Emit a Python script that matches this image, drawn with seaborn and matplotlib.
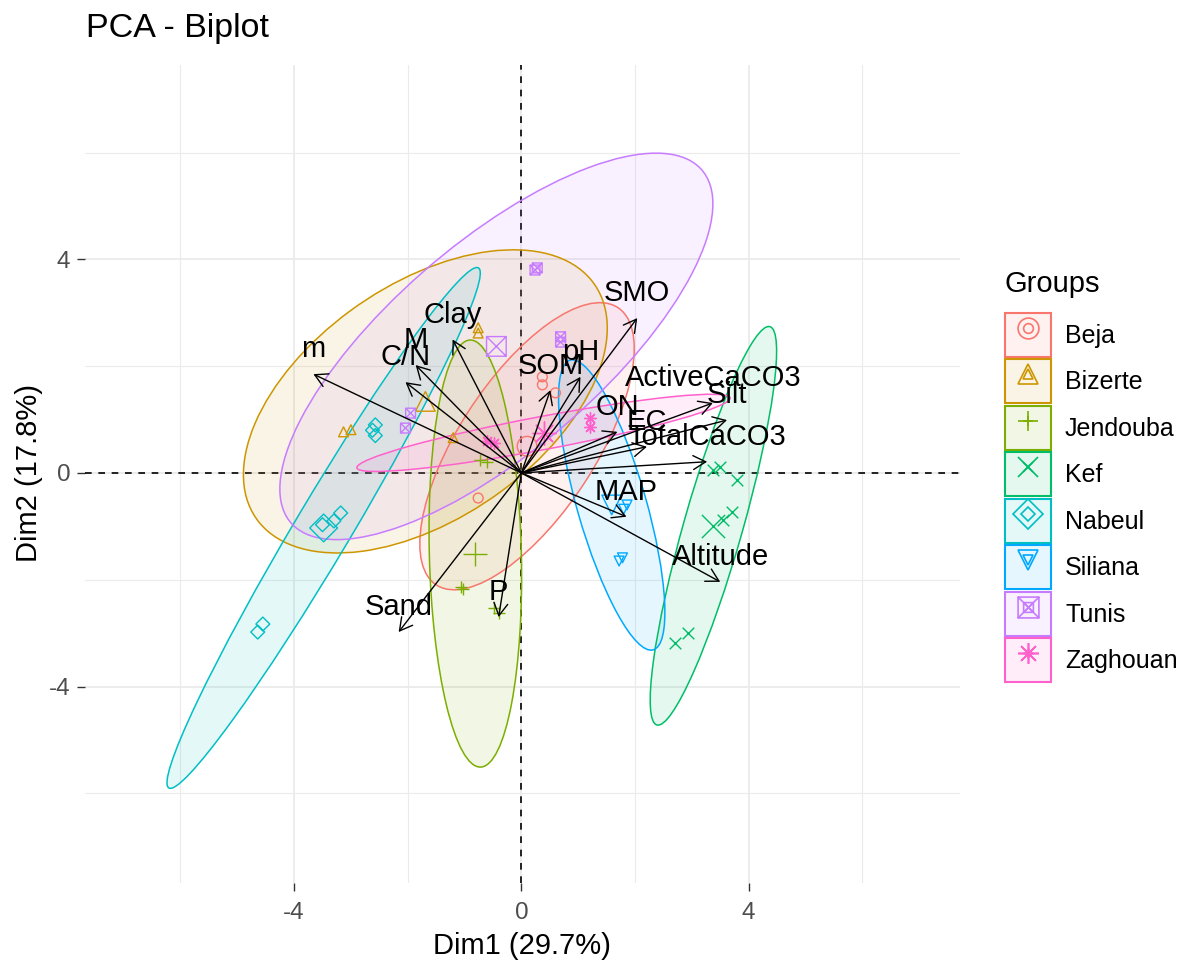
import numpy as np
import pandas as pd
import seaborn as sns
import matplotlib
matplotlib.use("Agg")
import matplotlib.pyplot as plt
from matplotlib.patches import Ellipse, Patch
from matplotlib.lines import Line2D
from matplotlib.path import Path

# ---------------- data ----------------
groups = ['Beja', 'Bizerte', 'Jendouba', 'Kef', 'Nabeul', 'Siliana', 'Tunis', 'Zaghouan']
group_colors = ['#F8766D', '#CD9600', '#7CAE00', '#00BE67', '#00BFC4', '#00A9FF', '#C77CFF', '#FF61CC']

# individuals (Dim1, Dim2)
ind_group = (['Beja'] * 4 + ['Bizerte'] * 5 + ['Jendouba'] * 6 + ['Kef'] * 7 +
             ['Nabeul'] * 8 + ['Siliana'] * 4 + ['Tunis'] * 6 + ['Zaghouan'] * 4)
ind_x = [0.37, 0.37, 0.60, -0.76,
         -3.00, -3.13, -1.20, -0.76, -0.76,
         -1.07, -1.03, -0.49, -0.39, -0.72, -0.60,
         3.37, 3.50, 3.80, 3.71, 3.55, 2.71, 2.93,
         -2.57, -2.57, -2.62, -3.50, -3.18, -3.30, -4.64, -4.55,
         1.86, 1.80, 1.78, 1.72,
         0.28, 0.24, 0.69, 0.69, -1.95, -2.04,
         1.21, 1.21, -0.49, -0.60]
ind_y = [1.65, 1.80, 1.50, -0.47,
         0.81, 0.77, 0.66, 2.62, 2.72,
         -2.13, -2.18, -2.53, -2.62, 0.25, 0.20,
         0.05, 0.12, -0.13, -0.73, -0.88, -3.18, -3.00,
         0.90, 0.70, 0.80, -0.97, -0.75, -0.90, -2.98, -2.83,
         -0.60, -0.68, -1.59, -1.65,
         3.84, 3.80, 2.45, 2.55, 1.12, 0.84,
         0.86, 1.03, 0.56, 0.60]

# group means and concentration ellipses (semi-axes, angle in degrees)
mean_x = [0.10, -1.69, -0.81, 3.38, -3.48, 1.59, -0.44, 0.39]
mean_y = [0.50, 1.34, -1.51, -0.99, -1.03, -0.60, 2.37, 0.75]
ell_a = [3.05, 3.70, 4.00, 3.86, 5.58, 2.81, 4.90, 3.35]
ell_b = [1.22, 2.15, 0.81, 0.52, 0.50, 0.61, 1.90, 0.31]
ell_angle = [59, 38, 91.3, 75.1, 60.8, 105, 43, 11.3]

# variables (arrow tips)
var_names = ['m', 'C/N', 'M', 'Clay', 'SOM', 'pH', 'SMO', 'ActiveCaCO3', 'Silt',
             'ON', 'EC', 'TotalCaCO3', 'MAP', 'Altitude', 'Sand', 'P']
var_x = [-3.66, -2.04, -1.86, -1.21, 0.51, 1.04, 2.04, 3.37, 3.62,
         1.69, 2.21, 3.27, 1.85, 3.50, -2.16, -0.40]
var_y = [1.85, 1.70, 2.02, 2.50, 1.55, 1.80, 2.90, 1.31, 0.99,
         0.77, 0.49, 0.21, -0.82, -2.04, -2.98, -2.70]

x_ticks = [-4, 0, 4]
y_ticks = [-4, 0, 4]

# ---------------- style ----------------
sns.set_theme(style="white")
plt.rcParams['font.family'] = ['Liberation Sans', 'DejaVu Sans']
plt.rcParams['text.color'] = 'black'

sq_x = Path([(-1, -1), (1, -1), (1, 1), (-1, 1), (-1, -1), (-1, -1), (1, 1), (-1, 1), (1, -1)],
            [Path.MOVETO, Path.LINETO, Path.LINETO, Path.LINETO, Path.CLOSEPOLY,
             Path.MOVETO, Path.LINETO, Path.MOVETO, Path.LINETO])
markers = {'Beja': 'o', 'Bizerte': '^', 'Jendouba': '+', 'Kef': 'x',
           'Nabeul': 'D', 'Siliana': 'v', 'Tunis': sq_x, 'Zaghouan': (8, 2, 0)}
filled = {'Beja': True, 'Bizerte': True, 'Jendouba': False, 'Kef': False,
          'Nabeul': True, 'Siliana': True, 'Tunis': True, 'Zaghouan': False}

fig = plt.figure(figsize=(11.88, 9.65), dpi=100)
ax = fig.add_axes([85 / 1188, 82 / 965, 875 / 1188, 818 / 965])

ind = pd.DataFrame({'group': ind_group, 'x': ind_x, 'y': ind_y})
means = pd.DataFrame({'group': groups, 'x': mean_x, 'y': mean_y})


def draw_points(df, g, col, size, lw):
    if filled[g]:
        sns.scatterplot(data=df, x='x', y='y', marker=markers[g], s=size,
                        facecolors='none', edgecolor=col, linewidth=lw, ax=ax,
                        legend=False, zorder=3)
    else:
        sns.scatterplot(data=df, x='x', y='y', marker=markers[g], s=size * 1.4,
                        color=col, linewidth=lw, ax=ax, legend=False, zorder=3)


for i, g in enumerate(groups):
    col = group_colors[i]
    e = Ellipse((mean_x[i], mean_y[i]), 2 * ell_a[i], 2 * ell_b[i], angle=ell_angle[i],
                facecolor=col, alpha=0.1, edgecolor='none', zorder=2)
    ax.add_patch(e)
    e2 = Ellipse((mean_x[i], mean_y[i]), 2 * ell_a[i], 2 * ell_b[i], angle=ell_angle[i],
                 facecolor='none', edgecolor=col, lw=1.1, zorder=2.5)
    ax.add_patch(e2)
    draw_points(ind[ind.group == g], g, col, 50, 1.0)
    draw_points(means[means.group == g], g, col, 200, 1.0)

ax.axhline(0, color='black', ls=(0, (4, 4)), lw=1.2, zorder=1.5)
ax.axvline(0, color='black', ls=(0, (4, 4)), lw=1.2, zorder=1.5)

for n, vx, vy in zip(var_names, var_x, var_y):
    ax.annotate('', xy=(vx, vy), xytext=(0, 0),
                arrowprops=dict(arrowstyle='->,head_length=0.45,head_width=0.25',
                                color='black', lw=1.0, shrinkA=0, shrinkB=0,
                                mutation_scale=20), zorder=4)
    ax.annotate(n, xy=(vx, vy), xytext=(0, 12), textcoords='offset points',
                ha='center', va='baseline', fontsize=21, color='black', zorder=5)

ax.set_xlim(-7.68, 7.72)
ax.set_ylim(-7.68, 7.64)
ax.set_xticks(x_ticks)
ax.set_yticks(y_ticks)
ax.set_xticks([-6, -2, 2, 6], minor=True)
ax.set_yticks([-6, -2, 2, 6], minor=True)
ax.set_xticklabels([str(t) for t in x_ticks])
ax.set_yticklabels([str(t) for t in y_ticks])
ax.grid(which='major', color='#EBEBEB', lw=1.3, zorder=0)
ax.grid(which='minor', color='#EBEBEB', lw=0.8, zorder=0)
ax.set_axisbelow(True)
for s in ax.spines.values():
    s.set_visible(False)
ax.tick_params(axis='both', which='major', length=5.5, width=1, color='#333333',
               labelsize=17.5, labelcolor='#4D4D4D', bottom=True, left=True)
ax.tick_params(axis='x', which='major', pad=8)
ax.tick_params(axis='y', which='major', pad=5)
ax.tick_params(which='minor', length=0)
ax.set_xlabel('')
ax.set_ylabel('')

fig.text(522 / 1188, 11 / 965, 'Dim1 (29.7%)', ha='center', va='baseline', fontsize=21,
         color='black')
fig.text(15 / 1188, 0.51, 'Dim2 (17.8%)', ha='left', va='center', rotation=90, fontsize=21,
         color='black')
fig.text(86 / 1188, 1 - 37 / 965, 'PCA - Biplot', ha='left', va='baseline', fontsize=24.5,
         color='black')

# legend
fig.text(1005 / 1188, 1 - 292 / 965, 'Groups', ha='left', va='baseline', fontsize=21,
         color='black')
handles = []
for i, g in enumerate(groups):
    col = group_colors[i]
    patch = Patch(facecolor=matplotlib.colors.to_rgba(col, 0.1), edgecolor=col, lw=1.5)
    big = Line2D([], [], ls='', marker=markers[g], ms=15, mfc='none', mec=col, color=col, mew=1.2)
    small = Line2D([], [], ls='', marker=markers[g], ms=7, mfc='none', mec=col, color=col, mew=1.2)
    handles.append((patch, big, small))

leg = fig.legend(handles, groups, loc='upper left', bbox_to_anchor=(1005 / 1188, 1 - 313 / 965),
                 frameon=False, fontsize=18, labelcolor='black',
                 handlelength=1.84, handleheight=2.33, labelspacing=0.1,
                 handletextpad=0.56, borderpad=0, borderaxespad=0)

fig.savefig('out.png', dpi=100)
